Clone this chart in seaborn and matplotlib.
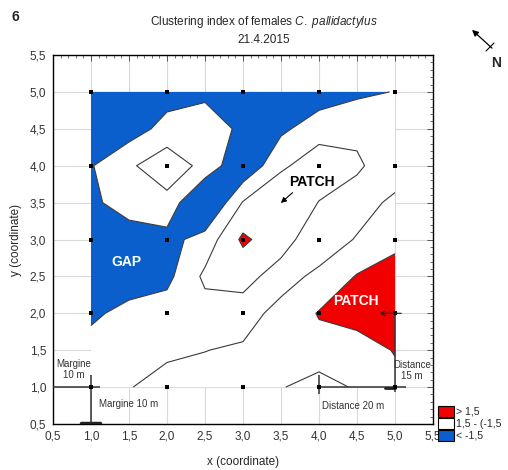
import numpy as np
import pandas as pd
import seaborn as sns
import matplotlib.pyplot as plt
from matplotlib.patches import Patch
from matplotlib.ticker import FuncFormatter, MultipleLocator

# grid of the clustering index, x and y in 0.5 steps
x_coord = [1.0, 1.5, 2.0, 2.5, 3.0, 3.5, 4.0, 4.5, 5.0]
y_coord = [1.0, 1.5, 2.0, 2.5, 3.0, 3.5, 4.0, 4.5, 5.0]

# rows go from y = 1,0 (bottom) to y = 5,0 (top)
clustering_index = [
    [-0.6, -0.05, 0.4, 0.4, 0.4, 0.1, -0.7, 0.2, 1.0],
    [-0.9, -0.8, -0.2, -0.02, 0.15, 0.8, 1.0, 0.7, 1.6],
    [-1.8, -1.0, -0.8, -0.6, -0.5, 0.4, 1.6, 2.2, 2.6],
    [-2.5, -2.4, -1.9, 0.3, 0.4, -0.5, 0.3, 1.6, 2.3],
    [-2.4, -2.5, -2.0, -0.9, 1.8, 0.5, -0.8, 0.1, 1.0],
    [-1.9, -0.6, -0.5, -3.5, 0.1, 1.45, -0.05, -0.6, 0.3],
    [-1.6, -0.25, 1.0, -0.5, -2.8, -0.3, 0.95, 0.2, -0.8],
    [-2.4, -2.2, -1.0, -0.5, -1.9, -1.8, -0.7, -0.3, -0.8],
    [-2.6, -2.4, -2.1, -1.9, -1.8, -2.2, -2.3, -1.8, -1.45],
]

# trap positions
trap_x = [1, 2, 3, 4, 5]
trap_y = [1, 2, 3, 4, 5]

fill_levels = [-10, -1.5, 1.5, 10]
line_levels = [-1.5, 0, 1.5]
legend_labels = ['> 1,5', '1,5 - (-1,5', '< -1,5']

blue = '#0a5fcd'
red = '#f20000'

sns.set_style('white')
plt.rcParams['font.family'] = ['Liberation Sans', 'DejaVu Sans']
plt.rcParams['mathtext.fontset'] = 'custom'
plt.rcParams['mathtext.rm'] = 'Liberation Sans'
plt.rcParams['mathtext.it'] = 'Liberation Sans:italic'

fig = plt.figure(figsize=(5.08, 4.70), dpi=100)
ax = fig.add_axes([53 / 508, 46 / 470, 380 / 508, 369 / 470])

# grid first, the fills cover it inside the sampled square
ax.set_axisbelow(True)
ax.grid(True, which='major', color='#d9d9d9', lw=0.8, zorder=0)

Z = np.array(clustering_index)
ax.contourf(x_coord, y_coord, Z, levels=fill_levels,
            colors=[blue, 'white', red], zorder=1, antialiased=True)
ax.contour(x_coord, y_coord, Z, levels=line_levels,
           colors='#3a3a3a', linewidths=0.8, linestyles='solid',
           negative_linestyles='solid', zorder=2)

traps = pd.DataFrame([(x, y) for y in trap_y for x in trap_x], columns=['x', 'y'])
sns.scatterplot(data=traps, x='x', y='y', marker='s', s=12, color='black',
                linewidth=0, ax=ax, zorder=5, legend=False)

ax.set_xlim(0.5, 5.5)
ax.set_ylim(0.5, 5.5)
ax.xaxis.set_major_locator(MultipleLocator(0.5))
ax.yaxis.set_major_locator(MultipleLocator(0.5))
ax.xaxis.set_minor_locator(MultipleLocator(0.1))
ax.yaxis.set_minor_locator(MultipleLocator(0.1))
comma = FuncFormatter(lambda v, p: f'{v:.1f}'.replace('.', ','))
ax.xaxis.set_major_formatter(comma)
ax.yaxis.set_major_formatter(comma)
ax.tick_params(which='both', direction='in', top=True, right=True,
               labelsize=8.5, labelcolor='#333333', color='#555555')
ax.tick_params(which='major', length=4, width=0.7, pad=5)
ax.tick_params(which='minor', length=2, width=0.6)
ax.set_xlabel('')
ax.set_ylabel('')
for s in ax.spines.values():
    s.set_color('black')
    s.set_linewidth(1.0)

# margin / distance markers
line_kw = dict(color='#333333', lw=1.1, zorder=4, solid_capstyle='butt')
ax.plot([0.5, 1.12], [1.0, 1.0], **line_kw)
ax.plot([1.0, 1.0], [1.16, 0.5], **line_kw)
ax.plot([0.87, 1.12], [0.51, 0.51], color='#222222', lw=2.5, zorder=4)
ax.plot([4.0, 5.15], [1.0, 1.0], **line_kw)
ax.plot([4.0, 4.0], [1.17, 0.9], **line_kw)
ax.plot([5.0, 5.0], [2.0, 0.93], **line_kw)
ax.plot([4.87, 5.0], [0.99, 0.99], color='#222222', lw=2.0, zorder=4)

ax.text(0.77, 1.24, 'Margine\n10 m', ha='center', va='center', fontsize=7,
        color='#333333', linespacing=1.1, zorder=6)
ax.text(1.1, 0.77, 'Margine 10 m', ha='left', va='center', fontsize=7,
        color='#333333', zorder=6)
ax.text(4.45, 0.74, 'Distance 20 m', ha='center', va='center', fontsize=7,
        color='#333333', zorder=6)
ax.text(5.22, 1.23, 'Distance\n15 m', ha='center', va='center', fontsize=7,
        color='#333333', linespacing=1.1, zorder=6)

# labels on the map
ax.text(1.47, 2.70, 'GAP', ha='center', va='center', fontsize=10,
        fontweight='bold', color='white', zorder=6)
ax.text(3.91, 3.78, 'PATCH', ha='center', va='center', fontsize=10,
        fontweight='bold', color='black', zorder=6)
ax.annotate('', xy=(3.47, 3.47), xytext=(3.68, 3.66),
            arrowprops=dict(arrowstyle='-|>', color='black', lw=0.8,
                            mutation_scale=8), zorder=6)
ax.text(4.48, 2.17, 'PATCH', ha='center', va='center', fontsize=10,
        fontweight='bold', color='white', zorder=6)
ax.annotate('', xy=(4.76, 2.0), xytext=(5.12, 2.0),
            arrowprops=dict(arrowstyle='->', color='#222222', lw=0.8,
                            mutation_scale=8), zorder=6)

# titles and axis labels
fig.text(15 / 508, 1 - 17 / 470, '6', fontsize=10, fontweight='bold',
         ha='center', va='center')
fig.text(264 / 508, 1 - 22 / 470,
         r'Clustering index of females $\it{C.\ pallidactylus}$',
         fontsize=8.5, ha='center', va='center')
fig.text(264 / 508, 1 - 40 / 470, '21.4.2015', fontsize=8.5,
         ha='center', va='center')
fig.text(243 / 508, 1 - 462 / 470, 'x (coordinate)', fontsize=8.5,
         ha='center', va='center')
fig.text(16 / 508, 1 - 240 / 470, 'y (coordinate)', fontsize=8.5,
         ha='center', va='center', rotation=90)

# north arrow
ax.annotate('', xy=(470, 470 - 28), xycoords='figure pixels',
            xytext=(494, 470 - 50), textcoords='figure pixels',
            arrowprops=dict(arrowstyle='-|>', color='black', lw=0.9,
                            mutation_scale=9), annotation_clip=False)
fig.add_artist(plt.Line2D([486 / 508, 494 / 508],
                          [1 - 51 / 470, 1 - 43 / 470], color='black', lw=0.8))
fig.text(496 / 508, 1 - 63 / 470, 'N', fontsize=10, fontweight='bold',
         ha='center', va='center')

# legend outside, bottom right
handles = [Patch(facecolor=c, edgecolor='black', lw=0.8)
           for c in [red, 'white', blue]]
fig.legend(handles, legend_labels, loc='lower left',
           bbox_to_anchor=(438 / 508, 1 - 441 / 470), frameon=False,
           fontsize=7.6, handlelength=1.5, handleheight=1.15,
           labelspacing=0.12, handletextpad=0.25, borderpad=0,
           borderaxespad=0)

fig.savefig('out.png', dpi=100)
